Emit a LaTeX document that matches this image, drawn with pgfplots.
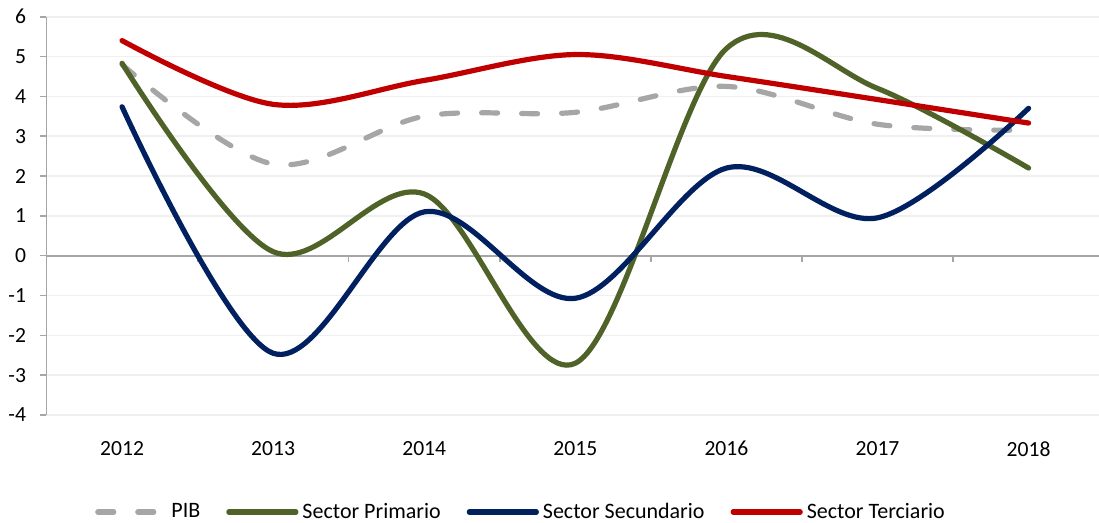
\documentclass[border=0pt]{standalone}
\usepackage{fontspec}
\setmainfont{Carlito}
\usepackage{pgfplots}
\pgfplotsset{compat=1.18}
\definecolor{pibgray}{HTML}{A6A6A6}
\definecolor{prim}{HTML}{4F6228}
\definecolor{sec}{HTML}{002060}
\definecolor{ter}{HTML}{C00000}
\definecolor{gridc}{HTML}{F0F0F0}
\definecolor{axc}{HTML}{A6A6A6}
\begin{document}
\begin{tikzpicture}
\path[use as bounding box] (-23.25pt,-54pt) rectangle (526.25pt,207.5pt);
\begin{axis}[
  at={(0pt,0pt)}, anchor=south west,
  scale only axis, width=526.25pt, height=199.15pt,
  xmin=-0.5, xmax=6.466, ymin=-4, ymax=6,
  axis lines*=left,
  x axis line style={draw=none},
  y axis line style={draw=axc, line width=0.9pt},
  xtick={0,...,6},
  xticklabels={2012,2013,2014,2015,2016,2017,2018},
  xtick style={draw=none},
  ytick={-4,...,6},
  ytick style={draw=axc, line width=0.8pt},
  major tick length=3.3pt,
  tick align=outside,
  ymajorgrids,
  grid style={draw=gridc, line width=0.8pt},
  /pgf/number format/assume math mode=true,
  tick label style={font=\fontsize{10.8}{12}\selectfont, text=black},
  yticklabel style={xshift=-3.4pt},
  xticklabel style={yshift=-6.3pt},
  clip=false,
  legend columns=4,
  legend style={draw=none, fill=none, at={(0.4518,-0.2435)}, anchor=center,
    font=\fontsize{11}{12}\selectfont,
    /tikz/every even column/.append style={column sep=11pt}},
  legend image code/.code={\draw[#1] (0pt,0pt) -- (33.5pt,0pt);},
]
\draw[axc, line width=0.9pt] (axis cs:-0.5,0) -- (axis cs:6.466,0);
\pgfplotsinvokeforeach{0.5,1.5,2.5,3.5,4.5,5.5}{
  \draw[axc, line width=0.8pt] (axis cs:#1,0) -- ++(0pt,-3pt);
}
\addplot[pibgray, line width=2.6pt, dash pattern=on 8pt off 12pt, line cap=round, smooth, tension=0.55]
  coordinates {(0,4.8) (1,2.3) (2,3.5) (3,3.6) (4,4.25) (5,3.3) (6,3.15)};
\addlegendentry{PIB}
\addplot[prim, line width=2.6pt, line cap=round, smooth, tension=0.55]
  coordinates {(0,4.83) (1,0.1) (2,1.55) (3,-2.7) (4,5.2) (5,4.2) (6,2.2)};
\addlegendentry{Sector Primario}
\addplot[sec, line width=2.6pt, line cap=round, smooth, tension=0.55]
  coordinates {(0,3.74) (1,-2.45) (2,1.1) (3,-1.07) (4,2.2) (5,0.95) (6,3.7)};
\addlegendentry{Sector Secundario}
\addplot[ter, line width=2.6pt, line cap=round, smooth, tension=0.55]
  coordinates {(0,5.4) (1,3.8) (2,4.4) (3,5.05) (4,4.5) (5,3.92) (6,3.33)};
\addlegendentry{Sector Terciario}
\end{axis}
\end{tikzpicture}
\end{document}
